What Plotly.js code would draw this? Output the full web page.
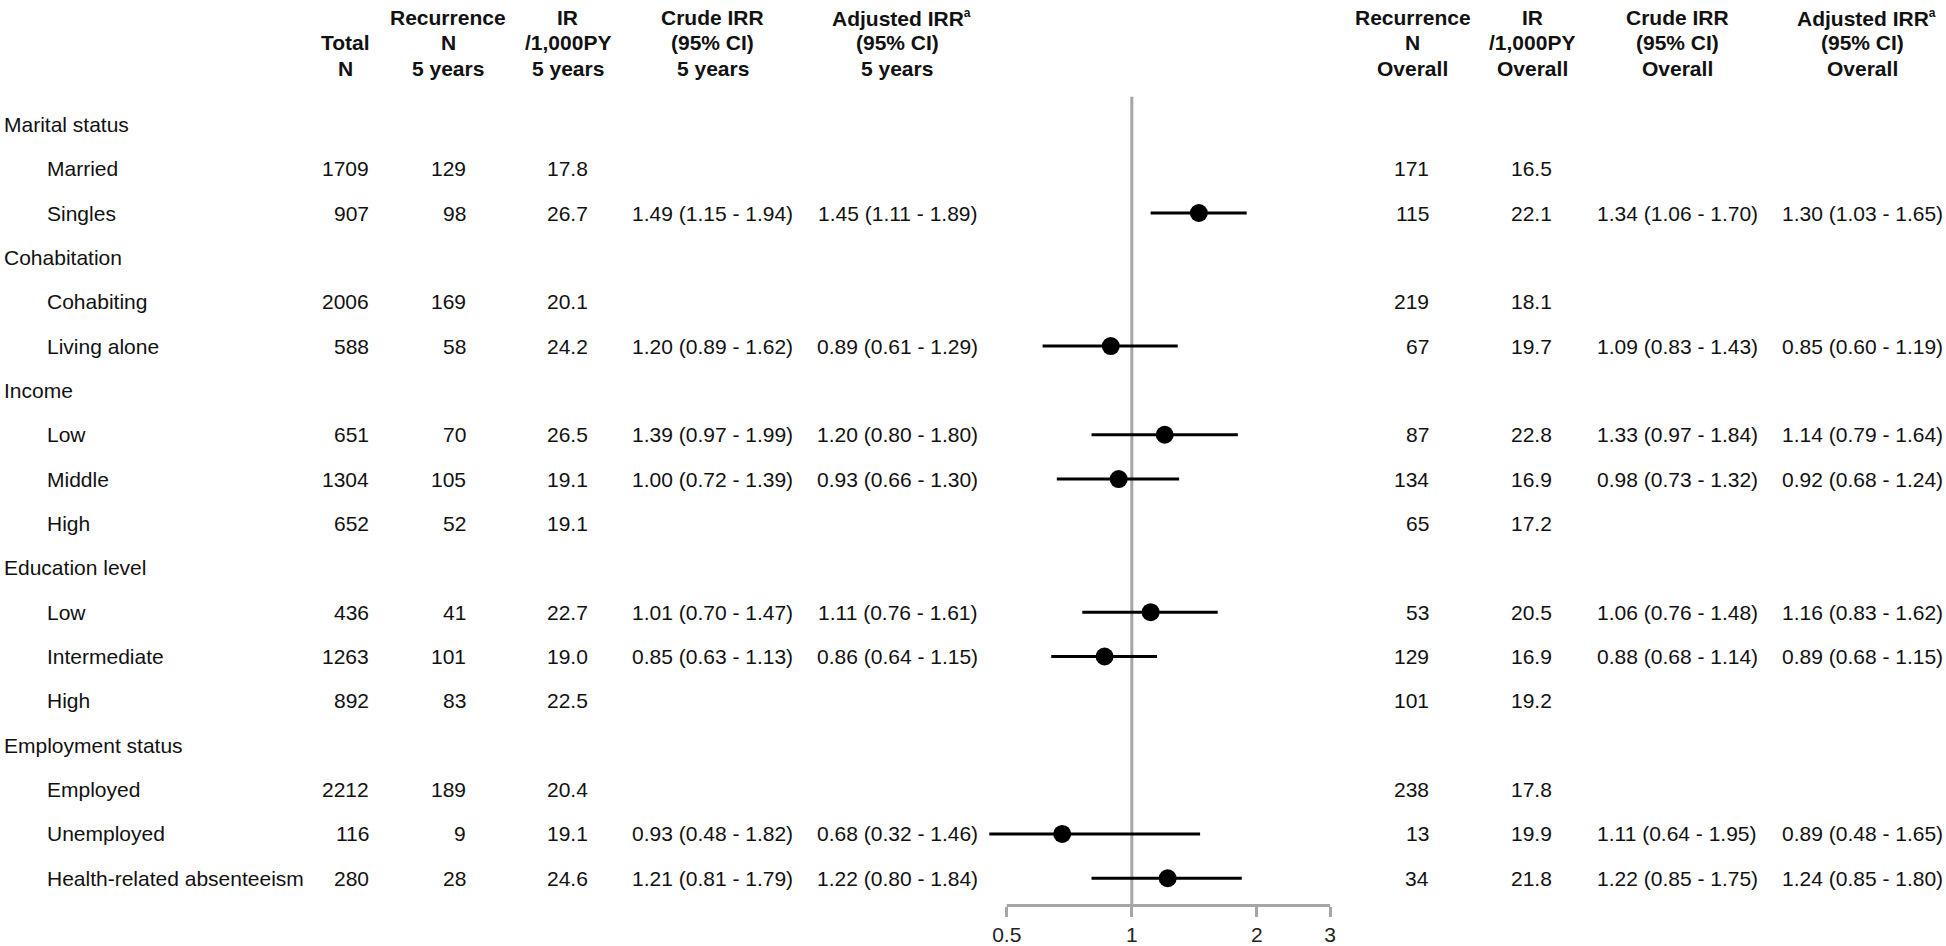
<!DOCTYPE html>
<html>
<head>
<meta charset="utf-8">
<script src="https://cdn.plot.ly/plotly-3.0.1.min.js"></script>
<style>html,body{margin:0;padding:0;background:#fff;}#chart{width:1946px;height:946px;}</style>
</head>
<body>
<div id="chart"></div>
<script>
// ---------------- DATA ----------------
const rowLabels = ["Marital status","Married","Singles","Cohabitation","Cohabiting","Living alone","Income","Low","Middle","High","Education level","Low","Intermediate","High","Employment status","Employed","Unemployed","Health-related absenteeism"];
const isGroup   = [1,0,0,1,0,0,1,0,0,0,1,0,0,0,1,0,0,0];

const totalN  = [null,1709,907,null,2006,588,null,651,1304,652,null,436,1263,892,null,2212,116,280];
const recN5   = [null,129,98,null,169,58,null,70,105,52,null,41,101,83,null,189,9,28];
const ir5     = [null,"17.8","26.7",null,"20.1","24.2",null,"26.5","19.1","19.1",null,"22.7","19.0","22.5",null,"20.4","19.1","24.6"];

const crude5    = [null,null,1.49,null,null,1.20,null,1.39,1.00,null,null,1.01,0.85,null,null,null,0.93,1.21];
const crude5Lo  = [null,null,1.15,null,null,0.89,null,0.97,0.72,null,null,0.70,0.63,null,null,null,0.48,0.81];
const crude5Hi  = [null,null,1.94,null,null,1.62,null,1.99,1.39,null,null,1.47,1.13,null,null,null,1.82,1.79];

const adj5      = [null,null,1.45,null,null,0.89,null,1.20,0.93,null,null,1.11,0.86,null,null,null,0.68,1.22];
const adj5Lo    = [null,null,1.11,null,null,0.61,null,0.80,0.66,null,null,0.76,0.64,null,null,null,0.32,0.80];
const adj5Hi    = [null,null,1.89,null,null,1.29,null,1.80,1.30,null,null,1.61,1.15,null,null,null,1.46,1.84];

const recNAll = [null,171,115,null,219,67,null,87,134,65,null,53,129,101,null,238,13,34];
const irAll   = [null,"16.5","22.1",null,"18.1","19.7",null,"22.8","16.9","17.2",null,"20.5","16.9","19.2",null,"17.8","19.9","21.8"];

const crudeAll   = [null,null,1.34,null,null,1.09,null,1.33,0.98,null,null,1.06,0.88,null,null,null,1.11,1.22];
const crudeAllLo = [null,null,1.06,null,null,0.83,null,0.97,0.73,null,null,0.76,0.68,null,null,null,0.64,0.85];
const crudeAllHi = [null,null,1.70,null,null,1.43,null,1.84,1.32,null,null,1.48,1.14,null,null,null,1.95,1.75];

const adjAll   = [null,null,1.30,null,null,0.85,null,1.14,0.92,null,null,1.16,0.89,null,null,null,0.89,1.24];
const adjAllLo = [null,null,1.03,null,null,0.60,null,0.79,0.68,null,null,0.83,0.68,null,null,null,0.48,0.85];
const adjAllHi = [null,null,1.65,null,null,1.19,null,1.64,1.24,null,null,1.62,1.15,null,null,null,1.65,1.80];

const headerLine1 = ["", "Recurrence", "IR", "Crude IRR", "Adjusted IRR<sup><span style=\"font-size:12px\">a</span></sup>", "Recurrence", "IR", "Crude IRR", "Adjusted IRR<sup><span style=\"font-size:12px\">a</span></sup>"];
const headerLine2 = ["Total", "N", "/1,000PY", "(95% CI)", "(95% CI)", "N", "/1,000PY", "(95% CI)", "(95% CI)"];
const headerLine3 = ["N", "5 years", "5 years", "5 years", "5 years", "Overall", "Overall", "Overall", "Overall"];

const tickVals   = [0.5, 1, 2, 3];
const tickLabels = ["0.5", "1", "2", "3"];
const refValue   = 1;

// ---------------- LAYOUT HELPERS ----------------
const W = 1946, H = 946;
const px = v => v / W;
const py = v => 1 - v / H;
const FONT = "Liberation Sans, Arial, Helvetica, sans-serif";
const FS = 21;
const TXT = "#111111";
const GRAY = "#a6a6a6";

function fmtCI(v, lo, hi) {
  if (v === null) return null;
  return v.toFixed(2) + " (" + lo.toFixed(2) + " - " + hi.toFixed(2) + ")";
}

const annotations = [];
function addRowText(i, text, x, anchor) {
  if (text === null || text === undefined || text === "") return;
  annotations.push({
    xref: "paper", yref: "y", x: px(x), y: i, text: String(text),
    xanchor: anchor, yanchor: "middle", showarrow: false, borderpad: 0,
    font: {family: FONT, size: FS, color: TXT}
  });
}

rowLabels.forEach((lab, i) => {
  addRowText(i, lab, isGroup[i] ? 3 : 45.5, "left");
  addRowText(i, totalN[i], 369.5, "right");
  addRowText(i, recN5[i], 466.7, "right");
  addRowText(i, ir5[i], 589.3, "right");
  addRowText(i, fmtCI(crude5[i], crude5Lo[i], crude5Hi[i]), 712.5, "center");
  addRowText(i, fmtCI(adj5[i], adj5Lo[i], adj5Hi[i]), 897.8, "center");
  addRowText(i, recNAll[i], 1429.5, "right");
  addRowText(i, irAll[i], 1553.3, "right");
  addRowText(i, fmtCI(crudeAll[i], crudeAllLo[i], crudeAllHi[i]), 1677, "center");
  addRowText(i, fmtCI(adjAll[i], adjAllLo[i], adjAllHi[i]), 1862, "center");
});

// header columns (center x) ; adjusted first-line anchored left
const headCenters = [345.7, 448.3, 567.8, 712.5, 897, 1412.5, 1532.3, 1677.8, 1862];
const headLeftAdj = {4: 831, 8: 1796};
const headY = [17.5, 43, 68.5];
[headerLine1, headerLine2, headerLine3].forEach((line, li) => {
  line.forEach((t, c) => {
    if (!t) return;
    let x = headCenters[c], anchor = "center";
    if (li === 0 && headLeftAdj[c] !== undefined) { x = headLeftAdj[c]; anchor = "left"; }
    annotations.push({
      xref: "paper", yref: "paper", x: px(x), y: py(headY[li]), text: "<b>" + t + "</b>",
      xanchor: anchor, yanchor: "middle", showarrow: false, borderpad: 0,
      font: {family: FONT, size: FS, color: TXT}
    });
  });
});

// ---------------- AXES GEOMETRY ----------------
// pixel mapping: 1 -> 1131.8, 415.5 px per decade
const x0px = 989.3, x1px = 1336;
const pxPerDec = 415.5, onePx = 1131.8;
const xRange = [(x0px - onePx) / pxPerDec, (x1px - onePx) / pxPerDec];
const axisPx = 905.5;
const rowTop = 124.3, rowStep = 44.35;
const plotH = axisPx;
const yb = -rowTop / rowStep;
const ya = yb + plotH / rowStep;

// ---------------- TRACES ----------------
const pi = [], px_ = [], plus = [], minus = [];
adj5.forEach((v, i) => {
  if (v === null) return;
  pi.push(i); px_.push(v);
  plus.push(adj5Hi[i] - v); minus.push(v - adj5Lo[i]);
});

const trace = {
  type: "scatter", mode: "markers", x: px_, y: pi,
  marker: {size: 18, color: "#000000"},
  error_x: {type: "data", symmetric: false, array: plus, arrayminus: minus,
            color: "#000000", thickness: 3, width: 0},
  hoverinfo: "skip", showlegend: false, cliponaxis: true
};

const layout = {
  width: W, height: H,
  margin: {l: 0, r: 0, t: 0, b: 0},
  paper_bgcolor: "#ffffff", plot_bgcolor: "rgba(0,0,0,0)",
  showlegend: false, hovermode: false,
  font: {family: FONT, size: FS, color: TXT},
  xaxis: {
    type: "log", range: xRange, domain: [px(x0px), px(x1px)],
    tickvals: tickVals, ticktext: tickLabels,
    ticks: "outside", ticklen: 10, tickwidth: 3, tickcolor: GRAY,
    showgrid: false, zeroline: false, showline: false,
    tickfont: {family: FONT, size: FS, color: "#222222"},
    fixedrange: true
  },
  yaxis: {
    range: [ya, yb], domain: [1 - axisPx / H, 1],
    visible: false, showgrid: false, zeroline: false, fixedrange: true
  },
  shapes: [
    {type: "line", layer: "below", xref: "x", yref: "paper", x0: refValue, x1: refValue,
     y0: py(96.7), y1: py(axisPx), line: {color: GRAY, width: 3}},
    {type: "line", layer: "below", xref: "x", yref: "paper", x0: tickVals[0], x1: tickVals[tickVals.length - 1],
     y0: py(axisPx), y1: py(axisPx), line: {color: GRAY, width: 3}}
  ],
  annotations: annotations
};

Plotly.newPlot("chart", [trace], layout, {displayModeBar: false, staticPlot: true});
</script>
</body>
</html>
